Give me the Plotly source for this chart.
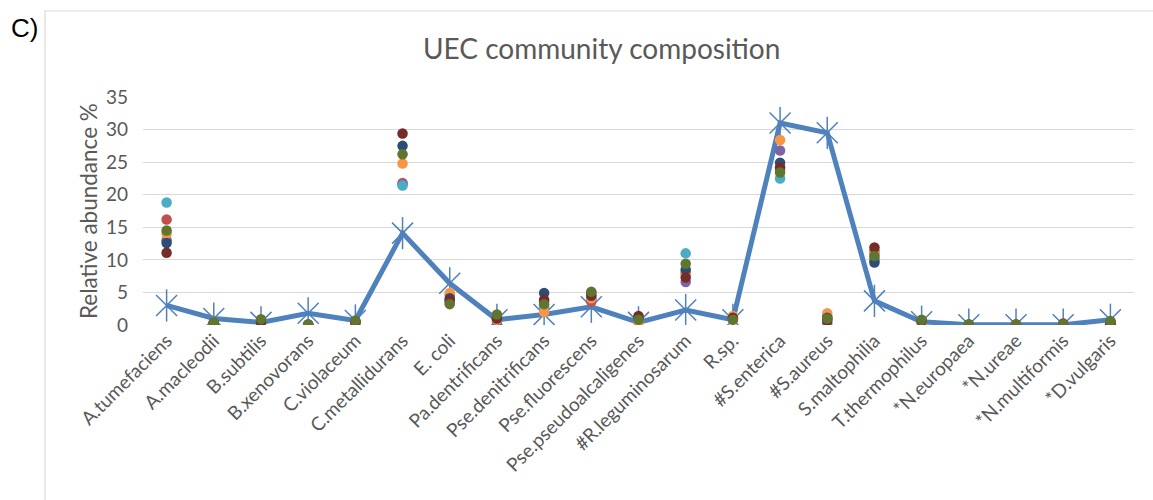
import plotly.graph_objects as go

# Taxa along the category axis
species = [
    "A.tumefaciens", "A.macleodii", "B.subtilis", "B.xenovorans", "C.violaceum",
    "C.metallidurans", "E. coli", "Pa.dentrificans", "Pse.denitrificans",
    "Pse.fluorescens", "Pse.pseudoalcaligenes", "#R.leguminosarum", "R.sp.",
    "#S.enterica", "#S.aureus", "S.maltophilia", "T.thermophilus",
    "*N.europaea", "*N.ureae", "*N.multiformis", "*D.vulgaris",
]

# Inoculum composition (line with star markers)
inoculum = [3.0, 1.0, 0.4, 1.8, 0.7, 14.1, 6.4, 0.8, 1.6, 2.8, 0.4,
            2.3, 0.8, 31.0, 29.5, 3.7, 0.5, 0.05, 0.05, 0.05, 0.8]

# Community samples (points)
sample_1 = [16.2, 0.2, 0.4, 0.05, 0.3, 21.8, 4.6, 0.8, 3.6, 3.6, 0.5,
            8.0, 1.0, 23.8, 1.3, 11.3, 0.4, 0.05, 0.05, 0.25, 0.4]
sample_2 = [13.0, 0.3, 0.5, 0.05, 0.4, 21.6, 3.5, 0.5, 2.5, 4.0, 1.2,
            6.6, 0.9, 26.8, 0.3, 10.0, 0.6, 0.05, 0.05, 0.1, 0.3]
sample_3 = [18.8, 0.3, 0.6, 0.05, 0.5, 21.4, 3.6, 1.3, 2.8, 4.3, 0.9,
            11.0, 1.0, 22.5, 0.9, 10.2, 0.5, 0.05, 0.05, 0.1, 0.5]
sample_4 = [14.0, 0.3, 0.7, 0.05, 0.3, 24.8, 4.9, 0.8, 2.0, 4.1, 0.4,
            7.9, 1.4, 28.4, 1.8, 10.9, 0.3, 0.05, 0.05, 0.1, 0.4]
sample_5 = [12.6, 0.3, 0.5, 0.05, 0.5, 27.5, 4.1, 1.2, 4.9, 4.9, 1.0,
            8.5, 1.0, 24.9, 1.1, 9.6, 0.6, 0.05, 0.05, 0.1, 0.5]
sample_6 = [11.1, 0.3, 0.6, 0.05, 0.5, 29.4, 3.8, 1.0, 3.9, 4.5, 1.4,
            7.3, 1.1, 24.2, 0.7, 11.9, 0.7, 0.05, 0.05, 0.1, 0.3]
sample_7 = [14.5, 0.4, 0.9, 0.1, 0.7, 26.2, 3.2, 1.6, 3.2, 5.1, 0.8,
            9.4, 0.8, 23.4, 1.0, 10.6, 0.8, 0.1, 0.1, 0.1, 0.6]

samples = [sample_1, sample_2, sample_3, sample_4, sample_5, sample_6, sample_7]
sample_colors = ["#C0504D", "#8064A2", "#4BACC6", "#F79646",
                 "#2C4D75", "#772C2A", "#5F7530"]

y_ticks = [0, 5, 10, 15, 20, 25, 30, 35]

FONT = "Lato, 'Open Sans', sans-serif"
GREY = "#595959"
LINE_BLUE = "#4F81BD"

x = list(range(len(species)))

fig = go.Figure()

# Inoculum line
fig.add_trace(go.Scatter(
    x=x, y=inoculum, mode="lines",
    line=dict(color=LINE_BLUE, width=5),
    showlegend=False, hoverinfo="skip",
))
# Star markers: diagonal cross plus vertical bar
fig.add_trace(go.Scatter(
    x=x, y=inoculum, mode="markers",
    marker=dict(symbol="x-thin-open", size=21, color=LINE_BLUE,
                line=dict(color=LINE_BLUE, width=1.5)),
    showlegend=False, name="Inoculum",
))
fig.add_trace(go.Scatter(
    x=x, y=inoculum, mode="markers",
    marker=dict(symbol="line-ns-open", size=23, color=LINE_BLUE,
                line=dict(color=LINE_BLUE, width=1.5)),
    showlegend=False, hoverinfo="skip",
))

for i, (vals, col) in enumerate(zip(samples, sample_colors), start=1):
    fig.add_trace(go.Scatter(
        x=x, y=vals, mode="markers",
        marker=dict(color=col, size=10.5, line=dict(width=0)),
        name=f"Sample {i}", showlegend=False,
    ))

W, H = 1153, 500
L, R, T, B = 143, 19, 97, 175
pw, ph = W - L - R, H - T - B

def px_x(v):
    return (v - L) / pw

def px_y(v):
    return (H - B - v) / ph

fig.update_layout(
    width=W, height=H,
    margin=dict(l=L, r=R, t=T, b=B, pad=0),
    paper_bgcolor="white", plot_bgcolor="white",
    font=dict(family=FONT, color=GREY),
    xaxis=dict(
        range=[-0.5, len(species) - 0.5],
        tickmode="array", tickvals=x, ticktext=species,
        tickangle=-45, tickfont=dict(size=19, color=GREY),
        showgrid=False, zeroline=False, showline=False, ticks="",
        fixedrange=True,
    ),
    yaxis=dict(
        range=[0, 35], tickvals=y_ticks,
        tickfont=dict(size=19, color=GREY),
        showgrid=True, gridcolor="#D9D9D9", gridwidth=1.3,
        zeroline=False, showline=False, ticks="",
        ticklabelstandoff=14, fixedrange=True,
    ),
    shapes=[
        # chart frame
        dict(type="rect", xref="paper", yref="paper",
             x0=px_x(45), x1=px_x(1160), y0=px_y(510), y1=px_y(11),
             line=dict(color="#D9D9D9", width=1.2), fillcolor="rgba(0,0,0,0)",
             layer="below"),
    ],
    annotations=[
        dict(text="UEC community composition", xref="paper", yref="paper",
             x=px_x(601), y=px_y(48), xanchor="center", yanchor="middle",
             showarrow=False, font=dict(size=28, color=GREY, family=FONT)),
        dict(text="Relative abundance %", xref="paper", yref="paper",
             x=px_x(88), y=px_y(211), xanchor="center", yanchor="middle",
             textangle=-90, showarrow=False,
             font=dict(size=22.5, color=GREY, family=FONT)),
        dict(text="C)", xref="paper", yref="paper",
             x=px_x(9), y=px_y(28), xanchor="left", yanchor="middle",
             showarrow=False,
             font=dict(size=26, color="#000000", family="Liberation Sans, Arial")),
    ],
)

fig.write_html("out.html")
